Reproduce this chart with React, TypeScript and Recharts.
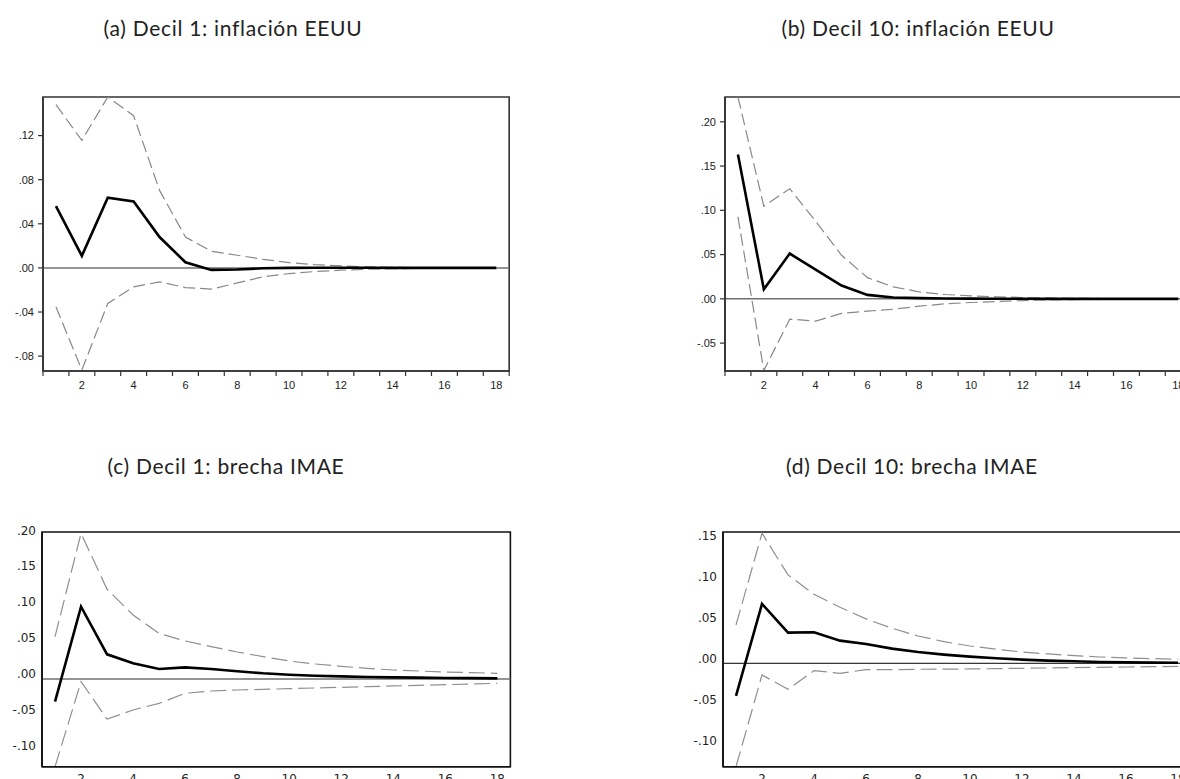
import React from 'react';
import { LineChart, Line, XAxis, YAxis, ReferenceLine, ReferenceArea } from 'recharts';

// Horizon (periods after the shock)
const periods = [1, 2, 3, 4, 5, 6, 7, 8, 9, 10, 11, 12, 13, 14, 15, 16, 17, 18];
const halfSteps = [0.5, 1.5, 2.5, 3.5, 4.5, 5.5, 6.5, 7.5, 8.5, 9.5, 10.5, 11.5, 12.5, 13.5, 14.5, 15.5, 16.5, 17.5, 18.5];
const evenPeriods = [2, 4, 6, 8, 10, 12, 14, 16, 18];

// (a) Decil 1: inflación EEUU
const irfA = [0.0561, 0.0109, 0.0637, 0.0603, 0.028, 0.0051, -0.0018, -0.0015, -0.0003, 0.0, 0.0001, 0.0002, 0.0001, 0.0, 0.0, 0.0, 0.0, 0.0];
const upperA = [0.148, 0.1156, 0.155, 0.138, 0.0703, 0.028, 0.0151, 0.0115, 0.0078, 0.0048, 0.003, 0.0018, 0.0009, 0.0005, 0.0003, 0.0002, 0.0001, 0.0001];
const lowerA = [-0.0353, -0.0926, -0.0323, -0.0172, -0.0127, -0.0178, -0.0193, -0.0136, -0.0081, -0.0051, -0.0033, -0.0021, -0.0012, -0.0007, -0.0004, -0.0002, -0.0001, -0.0001];

// (b) Decil 10: inflación EEUU
const irfB = [0.163, 0.0109, 0.0511, 0.0331, 0.015, 0.0045, 0.0015, 0.0008, 0.0004, 0.0002, 0.0001, 0.0001, 0.0, 0.0, 0.0, 0.0, 0.0, 0.0];
const upperB = [0.228, 0.1045, 0.1244, 0.0876, 0.0492, 0.024, 0.0135, 0.0079, 0.0049, 0.0034, 0.0023, 0.0015, 0.001, 0.0006, 0.0004, 0.0003, 0.0002, 0.0001];
const lowerB = [0.0925, -0.081, -0.0229, -0.0252, -0.0165, -0.0139, -0.0117, -0.0083, -0.0056, -0.0041, -0.003, -0.0019, -0.0012, -0.0008, -0.0005, -0.0003, -0.0002, -0.0001];

// (c) Decil 1: brecha IMAE
const irfC = [-0.0315, 0.1006, 0.0343, 0.0218, 0.0139, 0.0162, 0.0139, 0.0107, 0.0079, 0.006, 0.0046, 0.0037, 0.0028, 0.0023, 0.0019, 0.0014, 0.0012, 0.0009];
const upperC = [0.0589, 0.2027, 0.1248, 0.0891, 0.0635, 0.0529, 0.045, 0.0376, 0.0311, 0.025, 0.0209, 0.0176, 0.0148, 0.0125, 0.0111, 0.0097, 0.0088, 0.0079];
const lowerC = [-0.122, -0.0037, -0.0557, -0.0431, -0.0339, -0.0199, -0.0167, -0.0153, -0.0144, -0.0135, -0.0125, -0.0116, -0.0107, -0.0097, -0.0088, -0.0079, -0.007, -0.006];

// (d) Decil 10: brecha IMAE
const irfD = [-0.0398, 0.0724, 0.0374, 0.0378, 0.0276, 0.0236, 0.0179, 0.0138, 0.0106, 0.0081, 0.0061, 0.0045, 0.0033, 0.0024, 0.0016, 0.0012, 0.0008, 0.0006];
const upperD = [0.0467, 0.1585, 0.1077, 0.0841, 0.0683, 0.0541, 0.0427, 0.0333, 0.0264, 0.0211, 0.0171, 0.0138, 0.0114, 0.0093, 0.0077, 0.0065, 0.0057, 0.0049];
const lowerD = [-0.126, -0.0142, -0.0317, -0.0089, -0.0122, -0.0077, -0.0077, -0.0073, -0.0071, -0.0069, -0.0065, -0.0061, -0.0057, -0.0053, -0.0049, -0.0045, -0.0041, -0.0037];

const ticksA = [-0.08, -0.04, 0, 0.04, 0.08, 0.12];
const ticksB = [-0.05, 0, 0.05, 0.1, 0.15, 0.2];
const ticksC = [-0.1, -0.05, 0, 0.05, 0.1, 0.15, 0.2];
const ticksD = [-0.1, -0.05, 0, 0.05, 0.1, 0.15];

const buildRows = (irf: number[], upper: number[], lower: number[]) =>
  periods.map((p, i) => ({ period: p, irf: irf[i], upper: upper[i], lower: lower[i] }));

// ".05", "-.10" style labels
const fmt = (v: number) => v.toFixed(2).replace('0.', '.');

const Y_W = 50;
const M_TOP = 10;
const M_RIGHT = 10;
const X_H = 30;
const M_BOTTOM = 10;

interface PanelProps {
  title: string;
  titleX: number;
  titleY: number;
  plot: { left: number; top: number; width: number; height: number };
  domain: [number, number];
  yTicks: number[];
  rows: any[];
  lower?: boolean;
  zeroColor?: string;
  zeroWidth?: number;
}

function Panel({ title, titleX, titleY, plot, domain, yTicks, rows, lower, zeroColor = '#707070', zeroWidth = 1.5 }: PanelProps) {
  const step = plot.width / 18;
  const font = lower ? 'DejaVu Sans' : 'Liberation Sans, Arial';
  const fontSize = lower ? 12 : 11;
  const frame = lower ? '#111' : '#333';
  const band = lower ? '#8f8f8f' : '#888';
  const dash = lower ? '16 6' : '12 5';

  // tick marks sit between periods, labels on even periods
  const topXTick = ({ x, y, payload }: any) => {
    const label = payload.value + 0.5;
    if (label % 2 !== 0 || label > 18) return <g />;
    return (
      <text x={x + step / 2} y={y + 11} textAnchor="middle" fontFamily={font} fontSize={fontSize} fill="#222">
        {label}
      </text>
    );
  };

  const lowXTick = ({ x, y, payload }: any) => (
    <text x={x} y={y + 14} textAnchor="middle" fontFamily={font} fontSize={fontSize} fill="#222">
      {payload.value}
    </text>
  );

  const lowYTick = ({ x, y, payload }: any) => (
    <text x={x} y={y - 5} dy="0.36em" textAnchor="end" fontFamily={font} fontSize={fontSize} fill="#222">
      {fmt(payload.value)}
    </text>
  );

  return (
    <>
      <div
        style={{
          position: 'absolute',
          left: titleX - 200,
          top: titleY - 14,
          width: 400,
          height: 28,
          lineHeight: '28px',
          textAlign: 'center',
          fontFamily: 'Lato, sans-serif',
          fontSize: 21,
          letterSpacing: 0.7,
          color: '#222',
        }}
      >
        {title}
      </div>
      <div style={{ position: 'absolute', left: plot.left - Y_W, top: plot.top - M_TOP }}>
        <LineChart
          width={plot.width + Y_W + M_RIGHT}
          height={plot.height + M_TOP + X_H + M_BOTTOM}
          data={rows}
          margin={{ top: M_TOP, right: M_RIGHT, bottom: M_BOTTOM, left: 0 }}
        >
          <XAxis
            dataKey="period"
            type="number"
            domain={[0.5, 18.5]}
            ticks={lower ? evenPeriods : halfSteps}
            interval={0}
            height={X_H}
            tickLine={lower ? false : { stroke: frame, strokeWidth: 1.2 }}
            tickSize={lower ? 0 : 5}
            tickMargin={2}
            axisLine={{ stroke: frame, strokeWidth: 1.6 }}
            tick={lower ? lowXTick : topXTick}
          />
          <YAxis
            type="number"
            domain={domain}
            allowDataOverflow
            ticks={yTicks}
            interval={0}
            width={Y_W}
            tickLine={lower ? false : { stroke: frame, strokeWidth: 1.2 }}
            tickSize={lower ? 0 : 5}
            tickMargin={lower ? 6 : 4}
            axisLine={{ stroke: frame, strokeWidth: 1.6 }}
            tickFormatter={fmt}
            tick={lower ? lowYTick : { fontFamily: font, fontSize, fill: '#222' }}
          />
          {/* plot frame */}
          <ReferenceArea x1={0.5} x2={18.5} y1={domain[0]} y2={domain[1]} fill="none" stroke={frame} strokeWidth={1.6} />
          <ReferenceLine y={0} stroke={zeroColor} strokeWidth={zeroWidth} />
          <Line dataKey="upper" stroke={band} strokeWidth={1.2} strokeDasharray={dash} dot={false} isAnimationActive={false} />
          <Line dataKey="lower" stroke={band} strokeWidth={1.2} strokeDasharray={dash} dot={false} isAnimationActive={false} />
          <Line dataKey="irf" stroke="#000" strokeWidth={2.6} dot={false} isAnimationActive={false} />
        </LineChart>
      </div>
    </>
  );
}

export default function App() {
  return (
    <div
      style={{
        position: 'fixed',
        left: 0,
        top: 0,
        width: 1180,
        height: 779,
        overflow: 'hidden',
        background: '#fff',
      }}
    >
      <Panel
        title="(a) Decil 1: inflación EEUU"
        titleX={233}
        titleY={28}
        plot={{ left: 43.3, top: 97, width: 466.2, height: 274 }}
        domain={[-0.0935, 0.155]}
        yTicks={ticksA}
        rows={buildRows(irfA, upperA, lowerA)}
      />
      <Panel
        title="(b) Decil 10: inflación EEUU"
        titleX={918}
        titleY={28}
        plot={{ left: 725, top: 97, width: 466.2, height: 274 }}
        domain={[-0.0815, 0.228]}
        yTicks={ticksB}
        rows={buildRows(irfB, upperB, lowerB)}
      />
      <Panel
        title="(c) Decil 1: brecha IMAE"
        titleX={226}
        titleY={466}
        plot={{ left: 42.3, top: 532, width: 468.4, height: 234.7 }}
        domain={[-0.122, 0.2045]}
        yTicks={ticksC}
        rows={buildRows(irfC, upperC, lowerC)}
        lower
      />
      <Panel
        title="(d) Decil 10: brecha IMAE"
        titleX={912}
        titleY={466}
        plot={{ left: 723.3, top: 532, width: 468, height: 234.7 }}
        domain={[-0.126, 0.16]}
        yTicks={ticksD}
        rows={buildRows(irfD, upperD, lowerD)}
        lower
        zeroColor="#000"
        zeroWidth={1}
      />
    </div>
  );
}
